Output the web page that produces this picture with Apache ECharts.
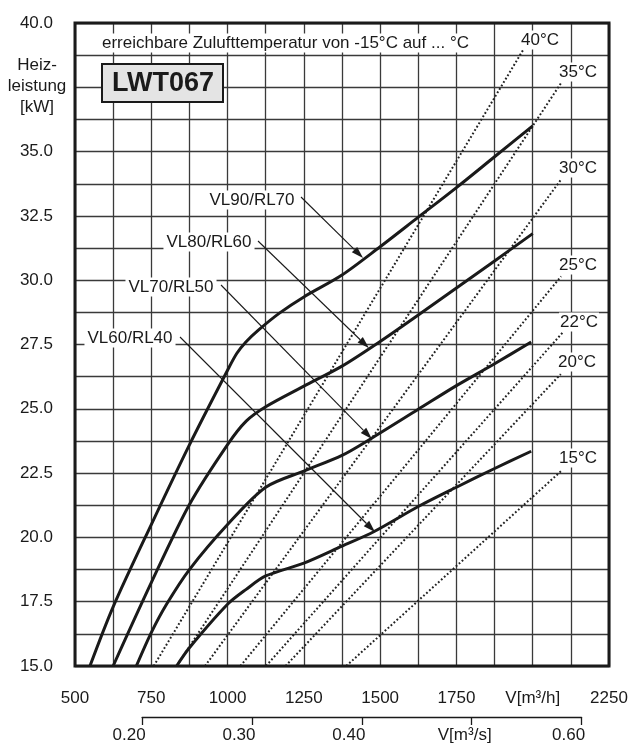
<!DOCTYPE html>
<html><head><meta charset="utf-8">
<script src="https://cdn.jsdelivr.net/npm/echarts@6/dist/echarts.min.js"></script>
<style>html,body{margin:0;padding:0;background:#fff}#c{width:631px;height:744px}</style>
</head><body><div id="c"></div>
<script>
// ---------------- data ----------------
const flowMin = 500, flowMax = 2250;          // V [m3/h]
const powerMin = 15, powerMax = 40;           // Heizleistung [kW]
const secMin = 0.20, secMax = 0.60;           // V [m3/s]
const hiddenYLabels = [37.5];                 // covered by the axis title

const vl90V = [549, 625, 750, 875, 1000, 1030, 1060, 1100, 1170, 1250, 1375, 1500, 1625, 1750, 1875, 2000];
const vl90P = [15.0, 17.3, 20.5, 23.6, 26.5, 27.15, 27.6, 28.05, 28.72, 29.35, 30.2, 31.3, 32.45, 33.6, 34.8, 36.0];

const vl80V = [625, 750, 875, 1000, 1061, 1125, 1250, 1375, 1500, 1625, 1750, 1875, 2000];
const vl80P = [15.0, 18.24, 21.28, 23.61, 24.52, 25.08, 25.88, 26.66, 27.62, 28.65, 29.7, 30.75, 31.81];

const vl70V = [701, 750, 800, 875, 1000, 1125, 1250, 1375, 1463, 1625, 1750, 1875, 1995];
const vl70P = [15.0, 16.3, 17.4, 18.75, 20.5, 21.95, 22.58, 23.19, 23.79, 24.98, 25.9, 26.75, 27.6];

const vl60V = [833, 875, 1000, 1061, 1125, 1250, 1375, 1479, 1625, 1750, 1870, 1995];
const vl60P = [15.0, 15.71, 17.4, 17.98, 18.5, 19.0, 19.66, 20.22, 21.2, 21.95, 22.65, 23.35];

const curveNames = ['VL90/RL70', 'VL80/RL60', 'VL70/RL50', 'VL60/RL40'];
const arrowTipV = [1444, 1463, 1473, 1483];
const arrowTipP = [30.86, 27.36, 23.83, 20.21];

const tempNames  = ['40°C', '35°C', '30°C', '25°C', '22°C', '20°C', '15°C'];
const tempStartV = [758, 833, 926, 1042, 1126, 1190, 1389];
const tempStartP = [15, 15, 15, 15, 15, 15, 15];
const tempEndV   = [1976, 2092, 2095, 2093, 2097, 2092, 2095];
const tempEndP   = [39.1, 37.65, 33.95, 30.15, 27.95, 26.35, 22.6];

const headline = 'erreichbare Zulufttemperatur von -15°C auf ... °C';
const modelName = 'LWT067';
const yTitle = ['Heiz-', 'leistung', '[kW]'];
const xUnitH = 'V[m³/h]';
const xUnitS = 'V[m³/s]';

// ---------------- layout ----------------
const G = {left: 75, top: 23, width: 534, height: 643};
const FONT = '"Liberation Sans", Arial, sans-serif';
const INK = '#1a1a1a';
const pxPerFlow = G.width / (flowMax - flowMin);
const secLeft = G.left + (secMin * 3600 - flowMin) * pxPerFlow;
const secWidth = (secMax - secMin) * 3600 * pxPerFlow;

const zip = (a, b) => a.map((v, i) => [v, b[i]]);
const curves = [zip(vl90V, vl90P), zip(vl80V, vl80P), zip(vl70V, vl70P), zip(vl60V, vl60P)];

const series = [];
tempNames.forEach((n, i) => {
  series.push({
    type: 'line', name: n, xAxisIndex: 0, yAxisIndex: 0, symbol: 'none', silent: true,
    data: [[tempStartV[i], tempStartP[i]], [tempEndV[i], tempEndP[i]]],
    lineStyle: {color: '#222', width: 2, type: [1.8, 2.2]}, z: 3
  });
});
curves.forEach((d, i) => {
  series.push({
    type: 'line', name: curveNames[i], xAxisIndex: 0, yAxisIndex: 0, symbol: 'none', silent: true,
    data: d, smooth: 0.3,
    lineStyle: {color: INK, width: 3, join: 'round'}, z: 4
  });
});

const chart = echarts.init(document.getElementById('c'), null, {renderer: 'canvas'});
chart.setOption({
  animation: false,
  backgroundColor: '#fff',
  grid: [
    {left: G.left, top: G.top, width: G.width, height: G.height, show: true,
     borderColor: INK, borderWidth: 3, backgroundColor: 'transparent', z: 5},
    {left: secLeft, top: 700, width: secWidth, height: 19, show: false}
  ],
  xAxis: [
    {type: 'value', gridIndex: 0, min: flowMin, max: flowMax, interval: 125,
     axisLine: {show: false}, axisTick: {show: false},
     splitLine: {show: true, lineStyle: {color: '#3a3a3a', width: 1.3}},
     axisLabel: {margin: 24, fontSize: 17, color: INK, fontFamily: FONT,
       showMinLabel: true, showMaxLabel: true,
       formatter: v => (v % 250 === 0 ? (v === 2000 ? xUnitH : String(v)) : '')}},
    {type: 'value', gridIndex: 1, min: secMin, max: secMax, interval: 0.1, position: 'bottom',
     axisLine: {show: true, lineStyle: {color: INK, width: 1.3}},
     axisTick: {show: true, length: 8, lineStyle: {color: INK, width: 1.3}},
     splitLine: {show: false},
     axisLabel: {margin: 10, fontSize: 17, color: INK, fontFamily: FONT,
       showMinLabel: true, showMaxLabel: true,
       formatter: v => (Math.abs(v - 0.5) < 1e-6 ? '{v|' + xUnitS + '}' : '{n|' + v.toFixed(2) + '}'),
       rich: {n: {fontSize: 17, color: INK, fontFamily: FONT, padding: [0, 26, 0, 0]},
              v: {fontSize: 17, color: INK, fontFamily: FONT, padding: [0, 14, 0, 0]}}}}
  ],
  yAxis: [
    {type: 'value', gridIndex: 0, min: powerMin, max: powerMax, interval: 1.25,
     axisLine: {show: false}, axisTick: {show: false},
     splitLine: {show: true, lineStyle: {color: '#3a3a3a', width: 1.3}},
     axisLabel: {margin: 22, fontSize: 17, color: INK, fontFamily: FONT,
       showMinLabel: true, showMaxLabel: true,
       formatter: v => {
         const major = Math.abs(v / 2.5 - Math.round(v / 2.5)) < 1e-6;
         const hidden = hiddenYLabels.some(h => Math.abs(h - v) < 1e-6);
         return major && !hidden ? v.toFixed(1) : '';
       }}},
    {type: 'value', gridIndex: 1, show: false, min: 0, max: 1}
  ],
  series: series
});

// ---------------- annotations ----------------
const g = [];
const txt = (x, y, text, opt = {}) => g.push({
  type: 'text', x: x, y: y, z: 50, silent: true,
  style: Object.assign({text: text, font: '17px ' + FONT, fill: INK,
    align: 'center', verticalAlign: 'middle'}, opt)
});
txt(100, 43, headline, {align: 'left', backgroundColor: '#fff', padding: [1, 2]});
yTitle.forEach((t, i) => txt(37, 65 + i * 21, t));
g.push({type: 'rect', z: 50, silent: true, shape: {x: 102, y: 64, width: 121, height: 38},
        style: {fill: '#e4e4e4', stroke: INK, lineWidth: 2}});
txt(163, 84, modelName, {font: 'bold 27px ' + FONT});

const tempLabelPos = [[540, 40], [578, 72], [578, 168], [578, 265], [579, 322], [577, 362], [578, 458]];
tempNames.forEach((n, i) => txt(tempLabelPos[i][0], tempLabelPos[i][1], n,
  {backgroundColor: '#fff', padding: [1, 1]}));

const labelCenter = [[252, 200], [209, 242], [171, 287], [130, 338]];
const arrowStart = [[301, 197], [258, 241], [221, 285], [180, 337]];
curveNames.forEach((n, i) => {
  txt(labelCenter[i][0], labelCenter[i][1], n, {backgroundColor: '#fff', padding: [1, 3]});
  const tip = chart.convertToPixel({gridIndex: 0}, [arrowTipV[i], arrowTipP[i]]);
  const s = arrowStart[i];
  const dx = tip[0] - s[0], dy = tip[1] - s[1];
  const L = Math.hypot(dx, dy), ux = dx / L, uy = dy / L;
  const hl = 12, hw = 3.8;
  const bx = tip[0] - ux * hl, by = tip[1] - uy * hl;
  g.push({type: 'line', z: 60, silent: true, shape: {x1: s[0], y1: s[1], x2: bx, y2: by},
          style: {stroke: INK, lineWidth: 1.1}});
  g.push({type: 'polygon', z: 60, silent: true,
          shape: {points: [[tip[0], tip[1]], [bx - uy * hw, by + ux * hw], [bx + uy * hw, by - ux * hw]]},
          style: {fill: INK}});
});
chart.setOption({graphic: {elements: g}});
</script>
</body></html>
